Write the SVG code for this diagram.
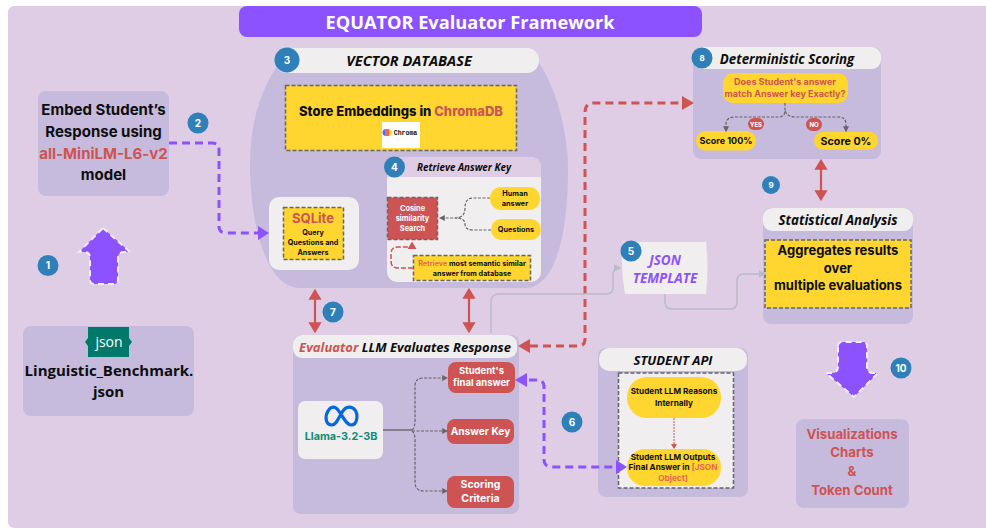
<svg xmlns="http://www.w3.org/2000/svg" width="986" height="529" viewBox="0 0 986 529">
<style>
text{font-family:"Inter","Liberation Sans",sans-serif;font-weight:700;text-anchor:middle;fill:#0d0d0d}
.h{font-family:"Open Sans","Liberation Sans",sans-serif;font-style:italic;font-weight:700}
.w{fill:#fff}.r{fill:#ce5353}.n{fill:#fff;font-size:10px}
.panel{fill:#c6badd}.light{fill:#f0eeee}.red{fill:#ce5353}.yel{fill:#ffd62f}
.dash{stroke:#666;stroke-width:1.5;stroke-dasharray:4 2}
.badge{fill:#2f80b8}
.c{fill:none}
.pd{stroke:#8c52ff;stroke-width:3;stroke-dasharray:8 5}
.rd{stroke:#ce5353;stroke-width:3;stroke-dasharray:8 5}
.rs{stroke:#ce5353;stroke-width:2.2}
.gd{stroke:#666;stroke-width:1.2;stroke-dasharray:3 1.5}
.gl{stroke:#b9bcc4;stroke-width:1.5}
.big{fill:#8c52ff;stroke:#f0eeee;stroke-width:2;stroke-dasharray:6 4}
</style>
<defs>
<marker id="ar" markerWidth="5" markerHeight="6" refX="4" refY="3" orient="auto-start-reverse"><path d="M0 0L5 3L0 6Z" fill="#ce5353"/></marker>
<marker id="ag" markerWidth="5" markerHeight="5" refX="4" refY="2.5" orient="auto"><path d="M0 0L5 2.5L0 5Z" fill="#666"/></marker>
<marker id="al" markerWidth="5" markerHeight="5" refX="4" refY="2.5" orient="auto"><path d="M0 0L5 2.5L0 5Z" fill="#b9bcc4"/></marker>
</defs>
<rect width="986" height="529" fill="#fff"/>
<rect x="8" y="6" width="990" height="522" rx="6" fill="#decde4"/>

<g id="title"><rect x="239" y="6" width="463" height="31" rx="8" fill="#8c52ff"/><text x="470" y="29" class="w" style="font-family:'Open Sans',sans-serif;font-size:18.200px;font-weight:700">EQUATOR Evaluator Framework</text></g>

<g id="vector-db">
<path class="panel" d="M290 50H530C555 80 568 130 568 170C568 235 555 288 525 288H300C265 288 250 220 250 165C250 120 262 80 290 50Z"/>
<rect class="light" x="275" y="48" width="264" height="25" rx="12"/>
<circle class="badge" cx="287" cy="60" r="12.500"/><text class="n" x="287" y="63.500">3</text>
<text class="h" x="409" y="66" font-size="14.500">VECTOR DATABASE</text>
</g>

<g id="chroma">
<rect class="yel dash" x="285.500" y="85.500" width="231" height="65"/>
<text x="401" y="116" font-size="13" font-weight="800" style="font-weight:800">Store Embeddings in <tspan class="r">ChromaDB</tspan></text>
<rect x="382" y="122" width="38" height="26" fill="#fff"/>
<circle cx="386" cy="132.500" r="3.500" fill="#327eff"/><circle cx="389" cy="132.500" r="3.500" fill="#ffde2d" opacity=".85"/><path d="M385 129h4v7h-4z" fill="#ff6446"/>
<text x="405.500" y="135" font-size="6.500" style="font-family:'Liberation Mono',monospace">Chroma</text>
</g>

<g id="retrieve">
<rect class="light" x="387" y="157" width="154" height="125" rx="10"/>
<path fill="#decde4" d="M387 177V167Q387 157 397 157H531Q541 157 541 167V177Z"/>
<circle class="badge" cx="394.500" cy="167" r="10.500"/><text class="n" x="394.500" y="170.500">4</text>
<text class="h" x="464" y="171" font-size="9.800">Retrieve Answer Key</text>
<rect class="red dash" x="387.500" y="197.500" width="50" height="42"/>
<text class="w" x="412.500" y="210.500" font-size="7.400">Cosine</text><text class="w" x="412.500" y="220.500" font-size="7.400">similarity</text><text class="w" x="412.500" y="230.500" font-size="7.400">Search</text>
<rect class="yel" x="490" y="187" width="50" height="23" rx="11"/>
<text x="515" y="195.500" font-size="7.300">Human</text><text x="515" y="205.500" font-size="7.300">answer</text>
<rect class="yel" x="491" y="219" width="50" height="21" rx="10.500"/>
<text x="516" y="232" font-size="7.300">Questions</text>
<rect class="yel dash" x="413.500" y="255.500" width="117" height="25"/>
<text x="472" y="265.500" font-size="7.200"><tspan fill="#e8664f">Retrieve</tspan> most semantic similar</text>
<text x="472" y="275.500" font-size="7.200">answer from database</text>
</g>

<g id="sqlite">
<rect class="light" x="269" y="197" width="90" height="73" rx="10"/>
<rect class="yel dash" x="283.500" y="207.500" width="60" height="52"/>
<text x="313" y="223" font-size="13" class="r">SQLite</text>
<text x="313" y="234.500" font-size="7.200">Query</text><text x="313" y="244.500" font-size="7.200">Questions and</text><text x="313" y="254.500" font-size="7.200">Answers</text>
</g>

<g id="embed">
<rect class="panel" x="38" y="91" width="131" height="105" rx="8"/>
<text x="103.500" y="115" font-size="15">Embed Student’s</text>
<text x="103.500" y="137" font-size="15">Response using</text>
<text x="103.500" y="158.500" font-size="15" class="r">all-MiniLM-L6-v2</text>
<text x="103.500" y="179.500" font-size="15">model</text>
</g>

<g id="step1"><circle class="badge" cx="48" cy="265.500" r="10.500"/><text class="n" x="48" y="269">1</text></g>
<g id="step2"><circle class="badge" cx="198" cy="123" r="10.500"/><text class="n" x="198" y="126.500">2</text></g>
<g id="arrow-up"><path class="big" d="M103 228L130 252H124Q118 252 118 258V280Q118 284 114 284H94Q90 284 90 280V258Q90 252 84 252H79Z"/></g>

<g id="dataset">
<rect class="panel" x="23" y="326" width="171" height="90" rx="8"/>
<path d="M88 327H129V338L132 342L129 346V357H88V346L85 342L88 338Z" fill="#00796b"/>
<text x="109" y="347" font-size="14" class="w" style="font-family:'Open Sans',sans-serif;font-weight:400">json</text>
<text x="109" y="376" font-size="15" style="font-family:'Open Sans',sans-serif;">Linguistic_Benchmark.</text>
<text x="108.500" y="397" font-size="15" style="font-family:'Open Sans',sans-serif;">json</text>
</g>

<g id="evaluator">
<rect class="panel" x="293" y="335" width="226" height="179" rx="8"/>
<rect class="light" x="293" y="335" width="224" height="23" rx="9"/>
<text class="h" x="405" y="352" font-size="13"><tspan class="r">Evaluator</tspan> LLM Evaluates Response</text>
<rect class="light" x="298" y="401" width="85" height="58" rx="7"/>
<path d="M332 425C325 425 325 416 328 411C331 406 335 406 338 410C343 416 346 425 351 425C358 425 358 414 355 410C352 406 346 406 343 411C339 416 337 425 332 425Z" fill="none" stroke="#0668e1" stroke-width="3.200"/>
<text x="341" y="440" font-size="10.800" style="fill:#0f8a76">Llama-3.2-3B</text>
<rect class="red" x="448" y="362" width="67" height="31" rx="8"/>
<text class="w" x="481.500" y="373.500" font-size="9.500">Student's</text><text class="w" x="481.500" y="385.500" font-size="9.500">final answer</text>
<rect class="red" x="447" y="419" width="67" height="25" rx="8"/>
<text class="w" x="480.500" y="435" font-size="10.200">Answer Key</text>
<rect class="red" x="447" y="476" width="67" height="32" rx="8"/>
<text class="w" x="480.500" y="488" font-size="10.500">Scoring</text><text class="w" x="480.500" y="502" font-size="10.500">Criteria</text>
</g>

<g id="student-api">
<rect class="panel" x="598" y="348" width="150" height="149" rx="8"/>
<rect class="light" x="599" y="348" width="148" height="23" rx="10"/>
<text class="h" x="673" y="365" font-size="13">STUDENT API</text>
<rect class="light dash" x="618.500" y="373" width="115" height="115"/>
<rect class="yel" x="627" y="377" width="94" height="41" rx="20"/>
<text x="674" y="394" font-size="8.200">Student LLM Reasons</text><text x="674" y="405.500" font-size="8.200">Internally</text>
<rect class="yel" x="627" y="449" width="94" height="37" rx="18"/>
<text x="673" y="459.500" font-size="8.200">Student LLM Outputs</text>
<text x="673" y="470" font-size="8.200">Final Answer in <tspan fill="#e8664f">[JSON</tspan></text>
<text x="673" y="480.500" font-size="8.200" style="fill:#e8664f">Object]</text>
</g>

<g id="deterministic">
<rect class="panel" x="693" y="47" width="188" height="112" rx="8"/>
<rect class="light" x="693" y="47" width="188" height="22" rx="9"/>
<circle class="badge" cx="702" cy="58" r="10.500"/><text class="n" x="702" y="61" style="font-size:8px">8</text>
<text class="h" x="787" y="64" font-size="13.300">Deterministic Scoring</text>
<rect class="yel" x="723" y="73" width="125" height="30" rx="10"/>
<text class="r" x="785" y="85" font-size="9">Does Student's answer</text><text class="r" x="785" y="97" font-size="9">match Answer key Exactly?</text>
<rect class="yel" x="696" y="131" width="60" height="19.500" rx="9.500"/><text x="726" y="143.500" font-size="9">Score 100%</text>
<rect class="yel" x="814" y="132" width="64" height="17.500" rx="8.500"/><text x="846" y="144.500" font-size="10.700">Score 0%</text>
<rect class="red" x="748" y="118" width="16" height="12" rx="6"/><text class="w" x="756" y="126.500" font-size="6">YES</text>
<rect class="red" x="806" y="118" width="16" height="13" rx="6.500"/><text class="w" x="814" y="127" font-size="6">NO</text>
</g>

<g id="statistical">
<rect class="panel" x="763" y="208" width="150" height="116" rx="8"/>
<rect class="light" x="763" y="208" width="150" height="23" rx="9"/>
<text class="h" x="838" y="225" font-size="13.300">Statistical Analysis</text>
<rect class="yel dash" x="765" y="240" width="146" height="68"/>
<text x="838" y="255" font-size="13">Aggregates results</text><text x="838" y="273" font-size="13">over</text><text x="838" y="290" font-size="13">multiple evaluations</text>
</g>

<g id="json-template">
<path class="light" d="M623 242H706Q709 268 706 294H625Q620 268 623 242Z"/>
<circle class="badge" cx="631" cy="251" r="10.500"/><text class="n" x="631" y="254.500">5</text>
<text class="h" x="665" y="265" font-size="13.500" style="fill:#8c52ff">JSON</text>
<text class="h" x="665" y="283" font-size="13.500" style="fill:#8c52ff">TEMPLATE</text>
</g>

<g id="arrow-down"><path class="big" d="M838 346Q838 342 842 342H863Q867 342 867 346V367Q867 373 873 373H878L854 397L826 373H832Q838 373 838 367Z"/></g>

<g id="visualizations">
<rect class="panel" x="796" y="419" width="113" height="89" rx="8"/>
<text class="r" x="852" y="438.500" font-size="13.200">Visualizations</text><text class="r" x="852" y="457" font-size="13.200">Charts</text><text class="r" x="852" y="476" font-size="13.200">&amp;</text><text class="r" x="852" y="495" font-size="13.200">Token Count</text>
</g>

<g id="step6"><circle class="badge" cx="572" cy="422" r="10.500"/><text class="n" x="572" y="425.500">6</text></g>
<g id="step7"><circle class="badge" cx="333" cy="312" r="10.500"/><text class="n" x="333" y="315.500">7</text></g>
<g id="step9"><circle class="badge" cx="771" cy="185" r="9"/><text class="n" x="771" y="188" style="font-size:8px">9</text></g>
<g id="step10"><circle class="badge" cx="901" cy="368" r="10.500"/><text class="n" x="901" y="371.500">10</text></g>

<g id="connectors" class="c">
<path class="c pd" d="M169 143H212Q219 143 219 150V226Q219 233 226 233H258"/>
<path d="M258 226L269 233L258 240Z" fill="#8c52ff"/>
<path class="c gd" d="M490 198H473Q465 198 465 208Q465 218 455 218H440" marker-end="url(#ag)"/>
<path class="c gd" d="M491 230H473Q465 230 465 224Q465 218 455 218"/>
<path class="c" stroke="#ce5353" stroke-width="1.500" stroke-dasharray="5 2" d="M413 268H398Q391 268 391 261V254Q391 247 398 247H412V243" marker-end="url(#ar)"/>
<path class="c rs" d="M315 291V331" marker-start="url(#ar)" marker-end="url(#ar)"/>
<path class="c rs" d="M469 290V331" marker-start="url(#ar)" marker-end="url(#ar)"/>
<path class="c rs" d="M821 161V199" marker-start="url(#ar)" marker-end="url(#ar)"/>
<path class="c" stroke="#555" stroke-width="1.200" d="M383 430H412"/>
<path class="c gd" d="M412 430Q415 428 415 420V386Q415 378 423 378H447" marker-end="url(#ag)"/>
<path class="c gd" d="M412 431H447" marker-end="url(#ag)"/>
<path class="c gd" d="M412 431Q415 433 415 440V482Q415 491 424 491H447" marker-end="url(#ag)"/>
<path class="c pd" d="M529 380H537Q544 380 544 387V459Q544 467 552 467H616"/>
<path d="M527 373L515 380L527 387Z" fill="#8c52ff"/><path d="M616 460L627 467L616 474Z" fill="#8c52ff"/>
<path class="c rd" d="M530 346H578Q585 346 585 339V112Q585 103 594 103H682"/>
<path d="M530 339L518 346L530 353Z" fill="#ce5353"/><path d="M682 96L694 103L682 110Z" fill="#ce5353"/>
<path class="c" stroke="#ce5353" stroke-width="1" stroke-dasharray="2 1" d="M674 418V448" marker-end="url(#ar)"/>
<path class="c gd" d="M785 103V111Q785 116 780 117H736Q726 117 726 124V131" marker-end="url(#ag)"/>
<path class="c gd" d="M785 111Q788 117 795 117H838Q846 117 846 124V131" marker-end="url(#ag)"/>
<path class="c gl" d="M491 333V302Q491 294 499 294H606Q613 294 613 287V275Q613 268 620 268" marker-end="url(#al)"/>
<path class="c gl" d="M665 294V302Q665 309 672 309H730Q737 309 737 302V281Q737 274 744 274H765" marker-end="url(#al)"/>
</g>
</svg>
